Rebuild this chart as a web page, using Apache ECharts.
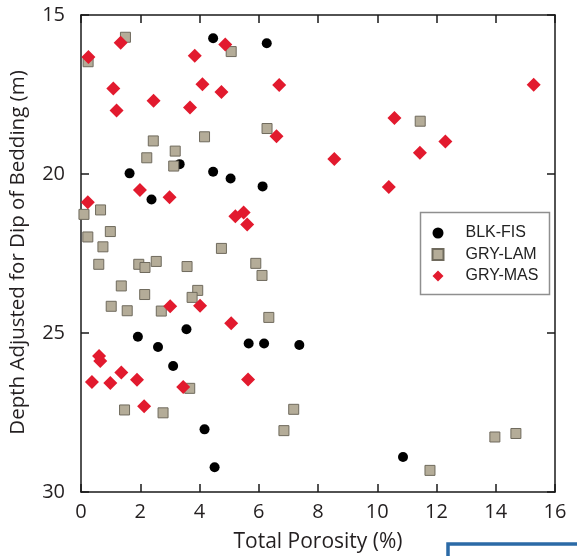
<!DOCTYPE html>
<html>
<head>
<meta charset="utf-8">
<script src="https://cdn.jsdelivr.net/npm/echarts@6/dist/echarts.min.js"></script>
<style>
  html, body { margin: 0; padding: 0; background: #fff; }
  #chart { width: 577px; height: 556px; }
</style>
</head>
<body>
<div id="chart"></div>
<script>
// Total porosity (%) vs. depth adjusted for dip of bedding (m), by facies
const blkFis = [
  [4.46, 15.73], [6.27, 15.89], [3.33, 19.69], [1.64, 19.98], [4.46, 19.93],
  [5.05, 20.14], [2.38, 20.80], [6.13, 20.39], [3.56, 24.88], [1.92, 25.12],
  [2.60, 25.44], [3.11, 26.04], [5.66, 25.33], [6.18, 25.33], [7.37, 25.38],
  [4.17, 28.03], [4.51, 29.22], [10.87, 28.90]
];
const gryLam = [
  [1.50, 15.70], [0.24, 16.47], [5.07, 16.15], [4.17, 18.83], [2.44, 18.96],
  [3.18, 19.28], [2.22, 19.49], [3.13, 19.75], [6.28, 18.57], [11.45, 18.34],
  [0.66, 21.13], [0.10, 21.27], [0.99, 21.81], [0.23, 21.98], [0.74, 22.29],
  [4.74, 22.34], [0.60, 22.84], [1.95, 22.84], [2.16, 22.94], [2.54, 22.75],
  [3.58, 22.91], [1.36, 23.52], [2.15, 23.79], [3.94, 23.66], [3.75, 23.88],
  [1.02, 24.16], [1.56, 24.30], [2.71, 24.31], [5.90, 22.81], [6.11, 23.19],
  [6.34, 24.51], [3.67, 26.74], [1.47, 27.42], [2.77, 27.51], [7.18, 27.40],
  [6.85, 28.07], [11.78, 29.32], [13.97, 28.27], [14.68, 28.16]
];
const gryMas = [
  [1.34, 15.87], [0.25, 16.32], [3.84, 16.28], [4.87, 15.93], [1.09, 17.31],
  [4.10, 17.18], [4.74, 17.42], [2.45, 17.70], [1.20, 18.00], [3.68, 17.91],
  [6.69, 17.20], [6.60, 18.81], [8.55, 19.53], [10.58, 18.24], [15.28, 17.19],
  [12.30, 18.98], [11.44, 19.33], [10.39, 20.41], [0.23, 20.89], [1.99, 20.50],
  [2.99, 20.73], [5.21, 21.33], [5.49, 21.21], [5.61, 21.59], [3.01, 24.16],
  [4.02, 24.14], [5.07, 24.69], [0.61, 25.72], [0.65, 25.88], [1.36, 26.24],
  [0.37, 26.54], [0.99, 26.57], [1.89, 26.47], [3.45, 26.70], [2.13, 27.30],
  [5.64, 26.46]
];

const xRange = { min: 0, max: 16, interval: 2 };
const yRange = { min: 15, max: 30, interval: 5 };
const xTitle = 'Total Porosity (%)';
const yTitle = 'Depth Adjusted for Dip of Bedding (m)';
const facies = ['BLK-FIS', 'GRY-LAM', 'GRY-MAS'];

const axisColor = '#1a1a1a';
const textColor = '#231f20';
const labelFont = 'Open Sans';

const chart = echarts.init(document.getElementById('chart'), null, { renderer: 'canvas' });

const frameAxis = (extra) => Object.assign({
  type: 'value',
  axisLine: { show: true, onZero: false, lineStyle: { color: axisColor, width: 1.5 } },
  axisTick: { show: true, inside: true, length: 8, lineStyle: { color: axisColor, width: 1.5 } },
  splitLine: { show: false },
  minorTick: { show: false }
}, extra);

chart.setOption({
  animation: false,
  backgroundColor: '#fff',
  grid: { left: 81, top: 15, right: 22, bottom: 64, containLabel: false, outerBoundsMode: 'none' },
  xAxis: [
    frameAxis(Object.assign({}, xRange, {
      position: 'bottom',
      name: xTitle,
      nameLocation: 'middle',
      nameGap: 40,
      nameTextStyle: { fontFamily: labelFont, fontSize: 21, color: textColor },
      axisLabel: { show: true, margin: 10, fontFamily: labelFont, fontSize: 20, color: textColor }
    })),
    frameAxis(Object.assign({}, xRange, {
      position: 'top',
      axisLabel: { show: false }
    }))
  ],
  yAxis: [
    frameAxis(Object.assign({}, yRange, {
      inverse: true,
      position: 'left',
      name: yTitle,
      nameLocation: 'middle',
      nameGap: 52,
      nameRotate: 90,
      nameTextStyle: { fontFamily: labelFont, fontSize: 20.5, color: textColor, padding: [0, 0, 0, 2] },
      axisLabel: { show: true, margin: 16, fontFamily: labelFont, fontSize: 20, color: textColor }
    })),
    frameAxis(Object.assign({}, yRange, {
      inverse: true,
      position: 'right',
      axisLabel: { show: false }
    }))
  ],
  legend: {
    orient: 'vertical',
    left: 431.5,
    top: 225,
    padding: 0,
    itemWidth: 11,
    itemHeight: 11,
    itemGap: 5.5,
    textStyle: {
      fontFamily: 'Liberation Sans', fontSize: 16, lineHeight: 16, color: '#222',
      padding: [0, 0, 0, 17]
    },
    data: facies
  },
  series: [
    {
      name: facies[0], type: 'scatter', xAxisIndex: 0, yAxisIndex: 0,
      symbol: 'circle', symbolSize: 10, symbolKeepAspect: true,
      itemStyle: { color: '#000', opacity: 1 },
      data: blkFis
    },
    {
      name: facies[1], type: 'scatter', xAxisIndex: 0, yAxisIndex: 0,
      symbol: 'rect', symbolSize: 10, symbolKeepAspect: true,
      itemStyle: { color: '#b4ac98', borderColor: '#6f6a5d', borderWidth: 1, opacity: 1 },
      data: gryLam
    },
    {
      name: facies[2], type: 'scatter', xAxisIndex: 0, yAxisIndex: 0,
      symbol: 'diamond', symbolSize: 14, symbolKeepAspect: true,
      itemStyle: { color: '#e21a2e', opacity: 1 },
      data: gryMas
    }
  ],
  graphic: [
    {
      // frame around the legend
      type: 'rect', z: 10, silent: true,
      shape: { x: 420.5, y: 212.5, width: 129, height: 82 },
      style: { fill: null, stroke: '#8f8f8f', lineWidth: 1.5 }
    },
    {
      // edge of the neighbouring panel
      type: 'rect', z: 10, silent: true,
      shape: { x: 448, y: 544, width: 200, height: 100 },
      style: { fill: null, stroke: '#2b6aa6', lineWidth: 3.5 }
    }
  ]
});
</script>
</body>
</html>
